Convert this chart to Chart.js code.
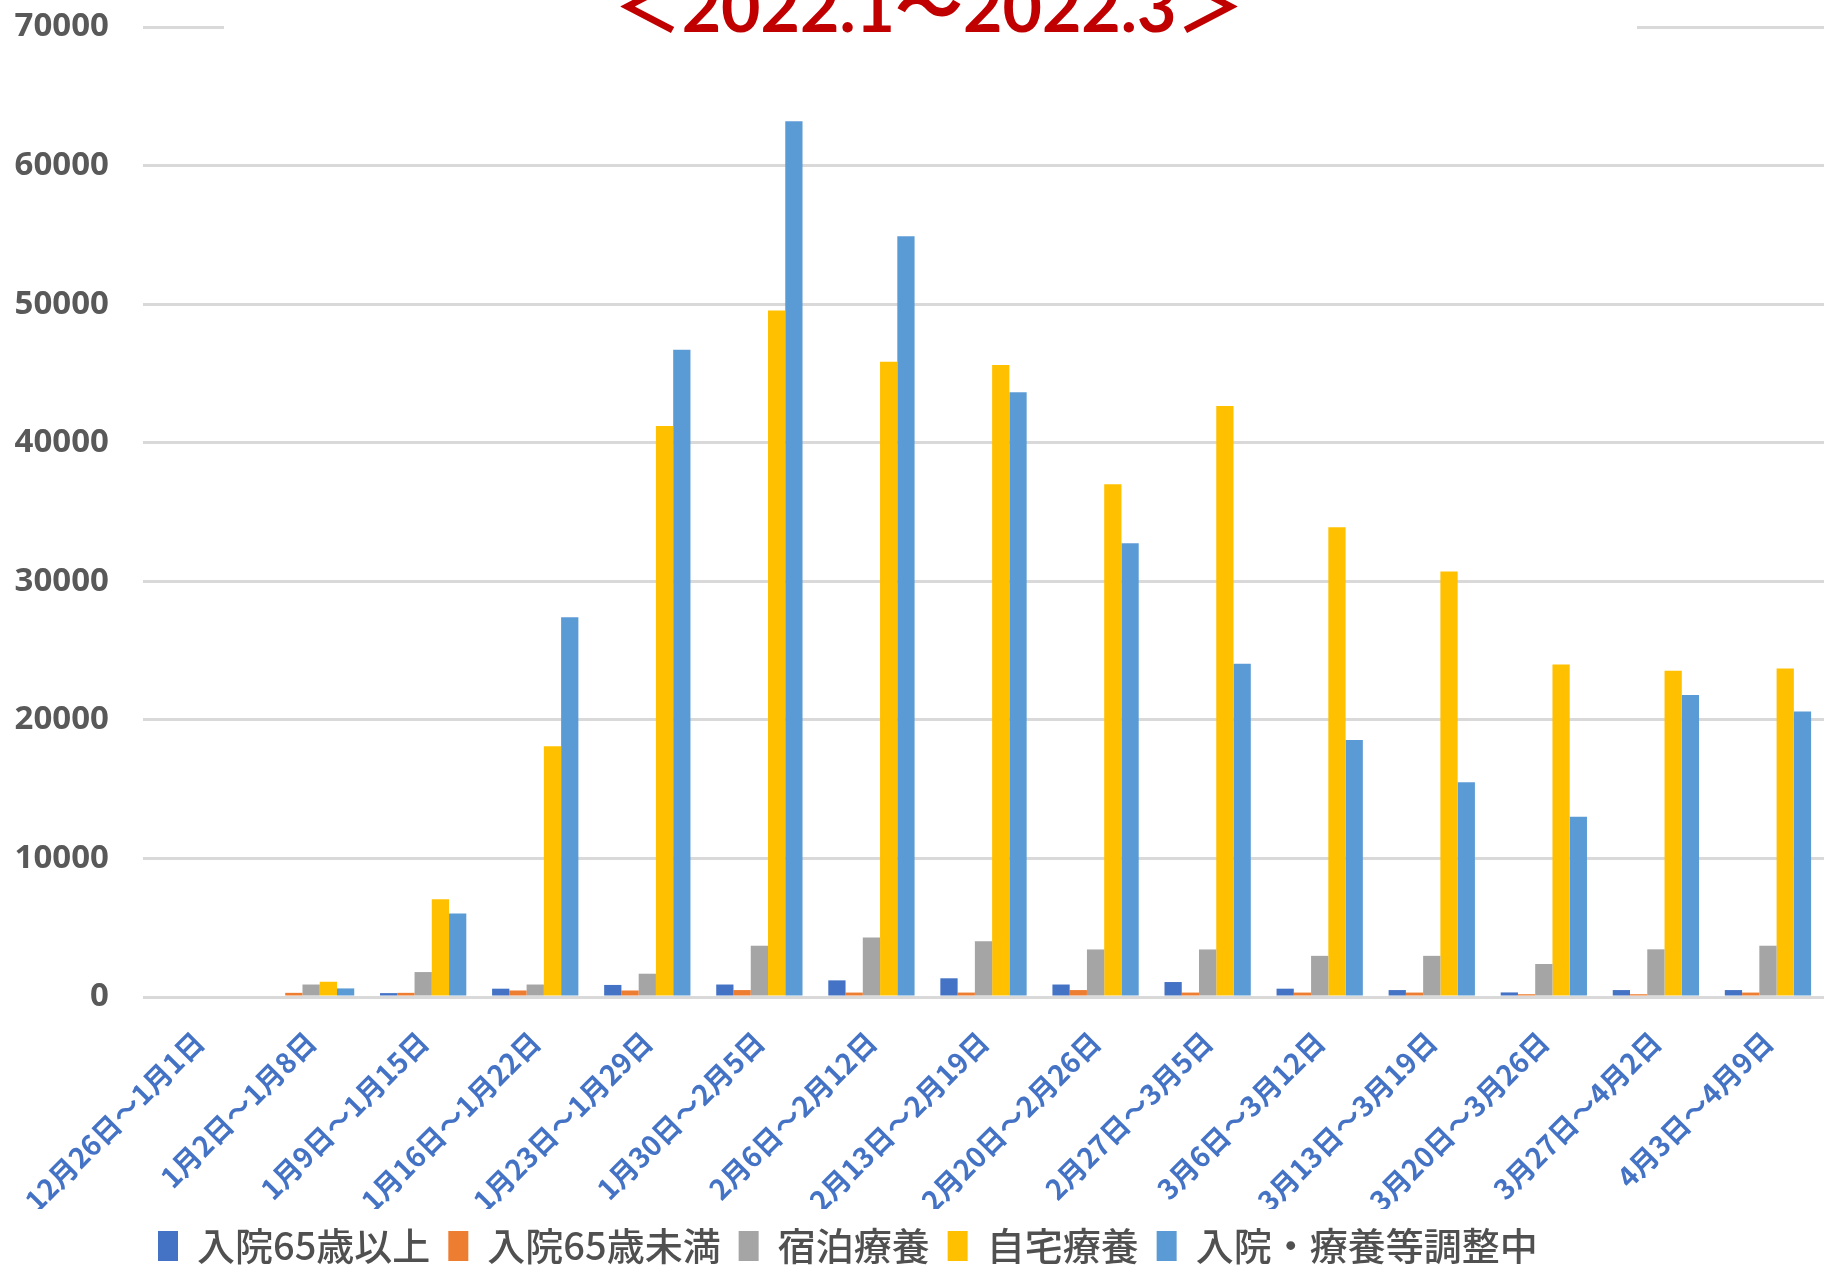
<!DOCTYPE html>
<html>
<head>
<meta charset="utf-8">
<script src="https://cdn.jsdelivr.net/npm/chart.js@4.4.1/dist/chart.umd.min.js"></script>
<style>
  html, body { margin: 0; padding: 0; background: #ffffff; }
  #wrap { position: relative; width: 1824px; height: 1266px; overflow: hidden; background: #fff; }
  #c { position: absolute; left: 0; top: 0; }
</style>
</head>
<body>
<div id="wrap"><canvas id="c" width="1824" height="1275"></canvas></div>
<script>
const titleText = '＜2022.1～2022.3＞';
const categories = ['12月26日～1月1日','1月2日～1月8日','1月9日～1月15日','1月16日～1月22日','1月23日～1月29日','1月30日～2月5日','2月6日～2月12日','2月13日～2月19日','2月20日～2月26日','2月27日～3月5日','3月6日～3月12日','3月13日～3月19日','3月20日～3月26日','3月27日～4月2日','4月3日～4月9日'];
const seriesNames = ['入院65歳以上','入院65歳未満','宿泊療養','自宅療養','入院・療養等調整中'];
const hosp65Over  = [0, 0, 280, 600, 870, 900, 1200, 1350, 900, 1080, 600, 500, 330, 500, 500];
const hosp65Under = [0, 300, 300, 470, 470, 500, 320, 320, 500, 320, 320, 320, 200, 200, 320];
const hotelCare   = [0, 900, 1800, 900, 1680, 3700, 4300, 4030, 3430, 3430, 2970, 2970, 2380, 3440, 3700];
const homeCare    = [0, 1100, 7050, 18100, 41200, 49550, 45850, 45600, 37000, 42650, 33900, 30700, 24000, 23550, 23700];
const adjusting   = [0, 620, 6030, 27400, 46700, 63200, 54900, 43650, 32750, 24050, 18550, 15500, 13000, 21800, 20600];
const yTicks = [0, 10000, 20000, 30000, 40000, 50000, 60000, 70000];
const colors = ['#4472C4', '#ED7D31', '#A5A5A5', '#FFC000', '#5B9BD5'];
const seriesValues = [hosp65Over, hosp65Under, hotelCare, homeCare, adjusting];

const titlePlugin = {
  id: 'titleBox',
  afterLayout(chart) {
    if (chart.legend) { chart.legend.left = 140; }
  },
  afterDraw(chart) {
    const ctx = chart.ctx;
    ctx.save();
    ctx.fillStyle = '#ffffff';
    ctx.fillRect(224, 0, 1413, 42);
    ctx.font = 'bold 68px Lato, "Noto Sans CJK JP", sans-serif';
    ctx.fillStyle = '#C00000';
    ctx.textAlign = 'center';
    ctx.textBaseline = 'alphabetic';
    ctx.fillText(titleText, 929, 32);
    ctx.restore();
  }
};

new Chart(document.getElementById('c'), {
  type: 'bar',
  data: {
    labels: categories,
    datasets: seriesNames.map((n, i) => ({
      label: n,
      data: seriesValues[i],
      backgroundColor: colors[i],
      borderWidth: 0,
      categoryPercentage: 0.77,
      barPercentage: 1.0
    }))
  },
  options: {
    responsive: false,
    animation: false,
    devicePixelRatio: 1,
    layout: { padding: { left: 0, right: 0, top: 27, bottom: 0 } },
    plugins: {
      title: { display: false },
      tooltip: { enabled: false },
      legend: {
        display: true,
        position: 'bottom',
        align: 'start',
        labels: {
          boxWidth: 20,
          boxHeight: 30,
          padding: 18,
          color: '#505050',
          font: { family: '"Noto Sans CJK JP", sans-serif', size: 38, weight: '500' }
        }
      }
    },
    scales: {
      x: {
        grid: { display: false, drawTicks: false },
        border: { display: false },
        ticks: {
          autoSkip: false,
          minRotation: 45,
          maxRotation: 45,
          padding: 28,
          color: '#4472C4',
          font: { family: '"Noto Sans CJK JP", sans-serif', size: 28, weight: 'bold' }
        },
        afterFit(scale) { scale.height = 212; scale.paddingLeft = 0; scale.paddingRight = 0; }
      },
      y: {
        min: 0,
        max: 70000,
        afterBuildTicks(scale) { scale.ticks = yTicks.map(v => ({ value: v })); },
        grid: { color: '#D9D9D9', lineWidth: 3, drawTicks: false },
        border: { display: false },
        ticks: {
          padding: 34,
          color: '#595959',
          font: { family: '"Noto Sans", sans-serif', size: 33, weight: 'bold' },
          callback: (v) => String(v)
        },
        afterFit(scale) { scale.width = 143; scale.paddingTop = 0; scale.paddingBottom = 0; }
      }
    }
  },
  plugins: [titlePlugin]
});
</script>
</body>
</html>
